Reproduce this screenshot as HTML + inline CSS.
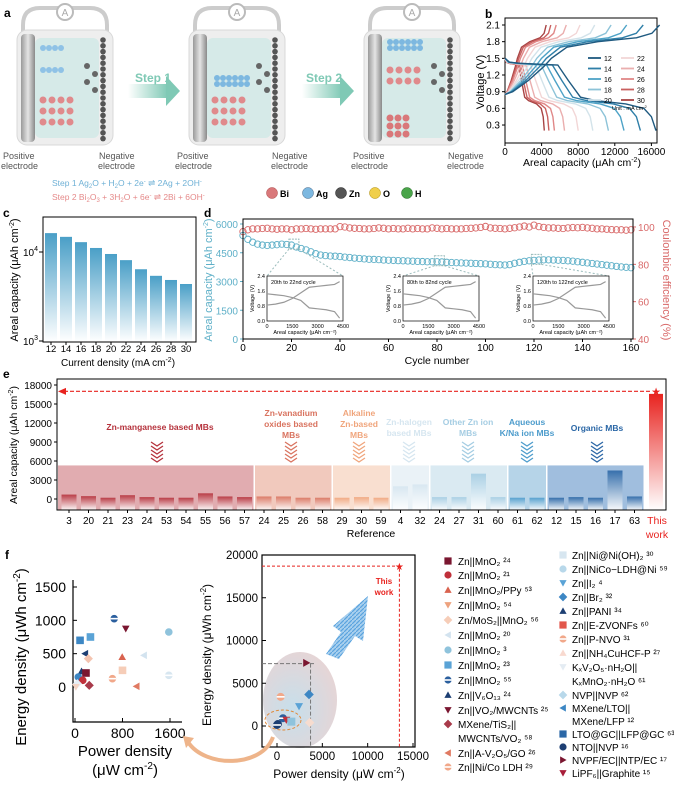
<!DOCTYPE html>
<html><head><meta charset="utf-8">
<style>
html,body{margin:0;padding:0;background:#fff;}
svg{display:block;font-family:"Liberation Sans",Arial,sans-serif;}
</style></head>
<body>
<svg id="fig" width="674" height="788" viewBox="0 0 674 788" xmlns="http://www.w3.org/2000/svg">
<defs>
<linearGradient id="gel" x1="0" x2="1"><stop offset="0" stop-color="#9a9a9a"/><stop offset="0.5" stop-color="#e4e4e4"/><stop offset="1" stop-color="#8a8a8a"/></linearGradient>
<linearGradient id="gc" x1="0" y1="0" x2="0" y2="1"><stop offset="0" stop-color="#4a9fc7"/><stop offset="1" stop-color="#ffffff"/></linearGradient>
<linearGradient id="gthis" x1="0" y1="0" x2="0" y2="1"><stop offset="0" stop-color="#e8231f"/><stop offset="1" stop-color="#ffffff"/></linearGradient>
<linearGradient id="gstep" x1="0" x2="1"><stop offset="0" stop-color="#ffffff"/><stop offset="1" stop-color="#7fc9b5"/></linearGradient>
<radialGradient id="ell" cx="0.4" cy="0.6" r="0.7"><stop offset="0" stop-color="#b9d7e6"/><stop offset="1" stop-color="#e3c9c9"/></radialGradient>
<pattern id="hatch" width="4" height="4" patternUnits="userSpaceOnUse"><rect width="4" height="4" fill="#a9d0ee"/><path d="M0 4L4 0" stroke="#5aa3df" stroke-width="1.2"/></pattern>
</defs>

<g>
<text x="4" y="17" font-size="12" font-weight="bold">a</text>
<g id="cells"></g>
<rect x="128" y="84" width="40" height="14" fill="url(#gstep)"/>
<polygon points="166,76 180,91 166,106" fill="#7fc9b5"/>
<text x="135" y="82" font-size="12" font-weight="bold" fill="#7fc9b5">Step 1</text>
<rect x="302" y="84" width="40" height="14" fill="url(#gstep)"/>
<polygon points="340,76 354,91 340,106" fill="#7fc9b5"/>
<text x="306" y="82" font-size="12" font-weight="bold" fill="#7fc9b5">Step 2</text>
<g font-size="9">
<text x="3" y="159" fill="#555">Positive</text><text x="1" y="169" fill="#555">electrode</text>
<text x="99" y="159" fill="#555">Negative</text><text x="98" y="169" fill="#555">electrode</text>
<text x="177" y="159" fill="#555">Positive</text><text x="175" y="169" fill="#555">electrode</text>
<text x="272" y="159" fill="#555">Negative</text><text x="271" y="169" fill="#555">electrode</text>
<text x="353" y="159" fill="#555">Positive</text><text x="351" y="169" fill="#555">electrode</text>
<text x="448" y="159" fill="#555">Negative</text><text x="447" y="169" fill="#555">electrode</text>
</g>
<text x="52" y="186" font-size="8.5" fill="#6fb1d6">Step 1  Ag<tspan font-size="6" dy="2">2</tspan><tspan dy="-2">O + H</tspan><tspan font-size="6" dy="2">2</tspan><tspan dy="-2">O + 2e</tspan><tspan font-size="6" dy="-3">-</tspan><tspan dy="3"> ⇌ 2Ag + 2OH</tspan><tspan font-size="6" dy="-3">-</tspan></text>
<text x="52" y="200" font-size="8.5" fill="#e58a8a">Step 2  Bi<tspan font-size="6" dy="2">2</tspan><tspan dy="-2">O</tspan><tspan font-size="6" dy="2">3</tspan><tspan dy="-2"> + 3H</tspan><tspan font-size="6" dy="2">2</tspan><tspan dy="-2">O + 6e</tspan><tspan font-size="6" dy="-3">-</tspan><tspan dy="3"> ⇌ 2Bi + 6OH</tspan><tspan font-size="6" dy="-3">-</tspan></text>
<g>
<circle cx="272" cy="193" r="5.5" fill="#d9787a" stroke="#a44" stroke-width="0.5"/><text x="280" y="197" font-size="9" font-weight="bold">Bi</text>
<circle cx="308" cy="193" r="5.5" fill="#7db8e0" stroke="#468" stroke-width="0.5"/><text x="316" y="197" font-size="9" font-weight="bold">Ag</text>
<circle cx="341" cy="193" r="5.5" fill="#555" stroke="#222" stroke-width="0.5"/><text x="349" y="197" font-size="9" font-weight="bold">Zn</text>
<circle cx="375" cy="193" r="5.5" fill="#f0cf4a" stroke="#a80" stroke-width="0.5"/><text x="383" y="197" font-size="9" font-weight="bold">O</text>
<circle cx="407" cy="193" r="5.5" fill="#4aa54a" stroke="#262" stroke-width="0.5"/><text x="415" y="197" font-size="9" font-weight="bold">H</text>
</g>
</g>

<g>
<text x="485" y="18" font-size="12" font-weight="bold">b</text>
<rect x="505" y="18" width="152" height="125" fill="none" stroke="#000" stroke-width="1"/>
<g id="bplot"></g>
<text transform="translate(484,82) rotate(-90)" text-anchor="middle" font-size="11">Voltage (V)</text>
<text x="582" y="166" text-anchor="middle" font-size="10.5">Areal capacity (μAh cm<tspan font-size="7" dy="-4">-2</tspan><tspan dy="4">)</tspan></text>
<g id="blegend"></g>
<text x="612" y="110" font-size="5.5">Unit : mA cm<tspan dy="-2" font-size="4">-2</tspan></text>
</g>

<g>
<text x="3" y="217" font-size="12" font-weight="bold">c</text>
<g id="cplot"></g>
<rect x="43" y="217" width="153" height="125" fill="none" stroke="#000"/>
<text transform="translate(18,280) rotate(-90)" text-anchor="middle" font-size="11">Areal capacity (μAh cm<tspan font-size="7" dy="-4">-2</tspan><tspan dy="4">)</tspan></text>
<text x="118" y="366" text-anchor="middle" font-size="10">Current density (mA cm<tspan font-size="7" dy="-4">-2</tspan><tspan dy="4">)</tspan></text>
</g>

<g>
<text x="204" y="217" font-size="12" font-weight="bold">d</text>
<g id="dplot"></g>
<rect x="243" y="219" width="390" height="120" fill="none" stroke="#000"/>
<text transform="translate(212,280) rotate(-90)" text-anchor="middle" font-size="11" fill="#5fb0c8">Areal capacity (μAh cm<tspan font-size="7" dy="-4">-2</tspan><tspan dy="4">)</tspan></text>
<text transform="translate(663,280) rotate(90)" text-anchor="middle" font-size="11" fill="#d96a6a">Coulombic efficiency (%)</text>
<text x="437" y="364" text-anchor="middle" font-size="10.5">Cycle number</text>
</g>

<g>
<text x="3" y="378" font-size="12" font-weight="bold">e</text>
<g id="eplot"></g>
<rect x="57" y="379" width="609" height="131" fill="none" stroke="#000"/>
<text transform="translate(17,445) rotate(-90)" text-anchor="middle" font-size="10.5">Areal capacity (μAh cm<tspan font-size="7" dy="-4">-2</tspan><tspan dy="4">)</tspan></text>
<text x="371" y="537" text-anchor="middle" font-size="10.5">Reference</text>
<text x="657" y="524" text-anchor="middle" font-size="10.5" fill="#e8231f">This</text>
<text x="657" y="538" text-anchor="middle" font-size="10.5" fill="#e8231f">work</text>
<g font-size="8.5" font-weight="bold" text-anchor="middle">
<text x="160" y="430" fill="#b5313b">Zn-manganese based MBs</text>
<text x="291" y="416" fill="#d9735f">Zn-vanadium</text><text x="291" y="427" fill="#d9735f">oxides based</text><text x="291" y="438" fill="#d9735f">MBs</text>
<text x="359" y="416" fill="#f0a57c">Alkaline</text><text x="359" y="427" fill="#f0a57c">Zn-based</text><text x="359" y="438" fill="#f0a57c">MBs</text>
<text x="409" y="425" fill="#d6e6f0">Zn-halogen</text><text x="409" y="436" fill="#d6e6f0">based MBs</text>
<text x="468" y="425" fill="#a5cde3">Other Zn ion</text><text x="468" y="436" fill="#a5cde3">MBs</text>
<text x="527" y="425" fill="#4d9ccc">Aqueous</text><text x="527" y="436" fill="#4d9ccc">K/Na ion MBs</text>
<text x="597" y="431" fill="#2b67a6">Organic MBs</text>
</g>
</g>

<g>
<text x="5" y="559" font-size="12" font-weight="bold">f</text>
<ellipse cx="300" cy="700" rx="37" ry="48" fill="url(#ell)" opacity="0.8"/>
<polygon points="326,654 341,632 333,626 368,596 363,641 355,636 339,659" fill="url(#hatch)"/>
<g id="fplot"></g>
<ellipse cx="283" cy="720" rx="18" ry="10" fill="none" stroke="#e08a3a" stroke-dasharray="3,2"/>
<path d="M273,737 C262,768 205,768 188,742" fill="none" stroke="#eeb48a" stroke-width="4"/>
<polygon points="183,736 194,738 186,748" fill="#eeb48a"/>
<text transform="translate(26,657) rotate(-90)" text-anchor="middle" font-size="15">Energy density (μWh cm<tspan font-size="10" dy="-6">-2</tspan><tspan dy="6">)</tspan></text>
<text x="125" y="756" text-anchor="middle" font-size="15">Power density</text>
<text x="125" y="775" text-anchor="middle" font-size="15">(μW cm<tspan font-size="10" dy="-6">-2</tspan><tspan dy="6">)</tspan></text>
<text transform="translate(211,655) rotate(-90)" text-anchor="middle" font-size="12">Energy density (μWh cm<tspan font-size="8" dy="-5">-2</tspan><tspan dy="5">)</tspan></text>
<text x="339" y="778" text-anchor="middle" font-size="12">Power density (μW cm<tspan font-size="8" dy="-5">-2</tspan><tspan dy="5">)</tspan></text>
<text x="384" y="584" text-anchor="middle" font-size="8" font-weight="bold" fill="#e8231f">This</text>
<text x="384" y="595" text-anchor="middle" font-size="8" font-weight="bold" fill="#e8231f">work</text>
<g id="flegend"></g>
</g>
</svg>

<script>
const NS = 'http://www.w3.org/2000/svg';
function mk(tag, attrs, parent, name) {
  const e = document.createElementNS(NS, tag);
  for (const k in attrs) e.setAttribute(k, attrs[k]);
  
  
  parent.appendChild(e);
  return e;
}
function txt(x, y, s, parent, name, extra) {
  const t = mk('text', Object.assign({x: x, y: y}, extra || {}), parent, name);
  t.textContent = s;
  return t;
}

/* ---------- Panel b data ---------- */
const bCurrents = [12, 14, 16, 18, 20, 22, 24, 26, 28, 30];
const bDischargeCap = [16500, 14800, 13000, 11300, 9600, 8000, 6500, 5400, 4800, 4300];
const bChargeCap = [16900, 15100, 13300, 11600, 9800, 8200, 6700, 5600, 5000, 4500];
const bDisFrac = [0, 0.03, 0.1, 0.35, 0.42, 0.5, 0.6, 0.8, 0.92, 0.97, 1.0];
const bDisV = [1.5, 1.43, 1.41, 1.38, 1.1, 0.8, 0.74, 0.68, 0.6, 0.45, 0.2];
const bChFrac = [0, 0.05, 0.15, 0.25, 0.3, 0.4, 0.6, 0.85, 0.95, 1.0];
const bChV = [0.85, 0.9, 1.1, 1.35, 1.5, 1.7, 1.8, 1.87, 1.95, 2.1];
const bColors = ['#1f5a80','#2f7fa8','#4ea3c7','#8dc3d8','#d3e3ea','#f2d6d6','#eaaeae','#e08787','#c9605f','#a84444'];
const bYTicks = [0.3, 0.6, 0.9, 1.2, 1.5, 1.8, 2.1];
const bXTicks = [0, 4000, 8000, 12000, 16000];
function bx(c) { return 505 + c * 9.15 / 1000; }
function by(v) { return 25 + (2.1 - v) / 0.3 * 16.67; }
(function(){
  const g = document.getElementById('bplot');
  bYTicks.forEach(v => {
    mk('line', {x1: 505, x2: 502, y1: by(v), y2: by(v), stroke: '#000'}, g, 'b-y-tick');
    txt(500, by(v) + 3.5, v.toFixed(1), g, 'b-y-tick-label', {'text-anchor': 'end', 'font-size': 10});
  });
  bXTicks.forEach(c => {
    mk('line', {x1: bx(c), x2: bx(c), y1: 143, y2: 146, stroke: '#000'}, g, 'b-x-tick');
    txt(bx(c), 155, String(c), g, 'b-x-tick-label', {'text-anchor': 'middle', 'font-size': 10});
  });
  for (let i = bCurrents.length - 1; i >= 0; i--) {
    const d1 = bDisFrac.map((f, k) => (k ? 'L' : 'M') + bx(f * bDischargeCap[i]).toFixed(1) + ',' + by(bDisV[k]).toFixed(1)).join('');
    mk('path', {d: d1, fill: 'none', stroke: bColors[i], 'stroke-width': 1.4}, g, 'b-discharge-curve-' + bCurrents[i]);
    const d2 = bChFrac.map((f, k) => (k ? 'L' : 'M') + bx(f * bChargeCap[i]).toFixed(1) + ',' + by(bChV[k]).toFixed(1)).join('');
    mk('path', {d: d2, fill: 'none', stroke: bColors[i], 'stroke-width': 1.4}, g, 'b-charge-curve-' + bCurrents[i]);
  }
  const lg = document.getElementById('blegend');
  bCurrents.forEach((c, i) => {
    const col = i < 5 ? 0 : 1, row = i % 5;
    const x = col ? 621 : 588, y = 58 + row * 10.5;
    mk('line', {x1: x, x2: x + 13, y1: y, y2: y, stroke: bColors[i], 'stroke-width': 1.8}, lg, 'b-legend-swatch');
    txt(x + 16, y + 3, String(c), lg, 'b-legend-label', {'font-size': 7});
  });
})();

/* ---------- Panel c data ---------- */
const cCurrents = [12, 14, 16, 18, 20, 22, 24, 26, 28, 30];
const cCapacity = [16300, 14800, 12900, 11100, 9500, 8100, 6400, 5400, 4850, 4370];
function cx(i) { return 51 + i * 15; }
function cy(v) { return 252 - (Math.log10(v) - 4) * 89; }
(function(){
  const g = document.getElementById('cplot');
  cCapacity.forEach((v, i) => {
    mk('rect', {x: cx(i) - 6, y: cy(v), width: 12, height: 342 - cy(v), fill: 'url(#gc)'}, g, 'c-bar-' + cCurrents[i]);
    mk('line', {x1: cx(i), x2: cx(i), y1: 342, y2: 345, stroke: '#000'}, g, 'c-x-tick');
    txt(cx(i), 352, String(cCurrents[i]), g, 'c-x-tick-label', {'text-anchor': 'middle', 'font-size': 9.5});
  });
  [[3, 341], [4, 252]].forEach(p => {
    const t = txt(38, p[1] + 4, '10', g, 'c-y-tick-label', {'text-anchor': 'end', 'font-size': 10});
    const s = mk('tspan', {dy: -5, 'font-size': 7}, t, 'c-y-tick-exp');
    s.textContent = String(p[0]);
    mk('line', {x1: 43, x2: 39, y1: p[1], y2: p[1], stroke: '#000'}, g, 'c-y-tick');
  });
})();

/* ---------- Panel d data ---------- */
const dCycles = [0,2,4,6,8,10,12,14,16,18,20,22,24,26,28,30,32,34,36,38,40,42,44,46,48,50,52,54,56,58,60,62,64,66,68,70,72,74,76,78,80,82,84,86,88,90,92,94,96,98,100,102,104,106,108,110,112,114,116,118,120,122,124,126,128,130,132,134,136,138,140,142,144,146,148,150,152,154,156,158,160];
const dCapacity = [5400,5200,5050,4950,4900,4880,4900,4920,4950,4930,4900,4800,4720,4650,4550,4450,4380,4350,4330,4320,4300,4270,4250,4220,4200,4180,4160,4150,4140,4120,4110,4100,4090,4080,4070,4060,4050,4040,4030,4030,4030,4020,4000,3990,3980,3970,3960,3950,3940,3930,3920,3900,3880,3870,3860,3880,3950,4000,4050,4080,4100,4120,4130,4130,4120,4110,4100,4080,4060,4030,4000,3970,3940,3910,3880,3850,3820,3790,3760,3740,3720];
const dCE = [97.5,98.5,99,99,99.2,99.3,99,98.8,99,99,98.5,99,99,99.2,99,98.8,99,99,99,99,100.2,100,99.5,99.3,99.2,99,99,99.2,99.5,99.3,99,99.2,99,99,99.3,99,99.2,99,99,99.5,99.3,99,99.2,99,99,99,99.2,99.3,99.5,99.8,100.3,99.5,99.3,99.2,99,99.3,99.6,100,100.5,100,101,100.2,99.8,99.5,99.5,99.3,99.2,99.5,99.7,99.6,99.8,99.5,99.3,99,99,98.8,98.6,98.5,98.5,98.3,98.5];
const dLeftTicks = [0, 1500, 3000, 4500, 6000];
const dRightTicks = [40, 60, 80, 100];
const dXTicks = [0, 20, 40, 60, 80, 100, 120, 140, 160];
const dInsetCap = [0, 500, 1000, 1500, 2000, 2500, 3000, 3500, 4000, 4300];
const dInsetDis = [1.45, 1.4, 1.35, 1.25, 1.1, 0.7, 0.65, 0.6, 0.5, 0.15];
const dInsetCh = [0.85, 0.9, 1.0, 1.2, 1.5, 1.8, 1.85, 1.9, 1.95, 2.1];
const dInsetTitles = ['20th to 22nd cycle', '80th to 82nd cycle', '120th to 122nd cycle'];
const dInsetCycles = [21, 81, 121];
function dx(n) { return 243 + n * 388 / 160; }
function dyL(v) { return 339 - v * 115 / 6000; }
function dyR(p) { return 339 - (p - 40) * 112 / 60; }
(function(){
  const g = document.getElementById('dplot');
  dLeftTicks.forEach(v => {
    mk('line', {x1: 243, x2: 240, y1: dyL(v), y2: dyL(v), stroke: '#5fb0c8'}, g, 'd-left-tick');
    txt(238, dyL(v) + 4, String(v), g, 'd-left-tick-label', {'text-anchor': 'end', 'font-size': 10, fill: '#5fb0c8'});
  });
  dRightTicks.forEach(v => {
    mk('line', {x1: 633, x2: 636, y1: dyR(v), y2: dyR(v), stroke: '#d96a6a'}, g, 'd-right-tick');
    txt(638, dyR(v) + 4, String(v), g, 'd-right-tick-label', {'font-size': 10, fill: '#d96a6a'});
  });
  dXTicks.forEach(v => {
    mk('line', {x1: dx(v), x2: dx(v), y1: 339, y2: 342, stroke: '#000'}, g, 'd-x-tick');
    txt(dx(v), 351, String(v), g, 'd-x-tick-label', {'text-anchor': 'middle', 'font-size': 10});
  });
  dCycles.forEach((n, i) => {
    mk('circle', {cx: dx(n), cy: dyR(dCE[i]), r: 3.2, fill: 'none', stroke: '#d96a6a', 'stroke-width': 0.9}, g, 'd-ce-point');
    mk('circle', {cx: dx(n), cy: dyL(dCapacity[i]), r: 3.2, fill: 'none', stroke: '#5fb0c8', 'stroke-width': 0.9}, g, 'd-capacity-point');
  });
  const insetX = [267, 403, 533];
  insetX.forEach((x0, k) => {
    const w = 76, y0 = 276, h = 45;
    const cyc = dInsetCycles[k];
    const iy = dCapacity[dCycles.indexOf(cyc - 1)] || 4000;
    mk('rect', {x: dx(cyc) - 5, y: dyL(iy) - 6, width: 10, height: 10, fill: 'none', stroke: '#9bb', 'stroke-dasharray': '2,1'}, g, 'd-inset-marker');
    mk('line', {x1: dx(cyc) - 5, y1: dyL(iy) + 4, x2: x0, y2: y0, stroke: '#9bb', 'stroke-dasharray': '2,2'}, g, 'd-inset-connector');
    mk('line', {x1: dx(cyc) + 5, y1: dyL(iy) + 4, x2: x0 + w, y2: y0, stroke: '#9bb', 'stroke-dasharray': '2,2'}, g, 'd-inset-connector');
    mk('rect', {x: x0, y: y0, width: w, height: h, fill: '#fff', stroke: '#000', 'stroke-width': 0.7}, g, 'd-inset-frame');
    const ix = c => x0 + c * w / 4500, iyv = v => y0 + h - v * h / 2.4;
    mk('path', {d: dInsetCap.map((c, j) => (j ? 'L' : 'M') + ix(c) + ',' + iyv(dInsetDis[j])).join(''), fill: 'none', stroke: '#999', 'stroke-width': 1.2}, g, 'd-inset-discharge');
    mk('path', {d: dInsetCap.map((c, j) => (j ? 'L' : 'M') + ix(c) + ',' + iyv(dInsetCh[j])).join(''), fill: 'none', stroke: '#999', 'stroke-width': 1.2}, g, 'd-inset-charge');
    txt(x0 + 4, y0 + 8, dInsetTitles[k], g, 'd-inset-title', {'font-size': 5.5});
    [0, 1500, 3000, 4500].forEach(c => txt(ix(c), y0 + h + 7, String(c), g, 'd-inset-x-tick', {'font-size': 5.5, 'text-anchor': 'middle'}));
    [0.0, 0.8, 1.6, 2.4].forEach(v => txt(x0 - 2, iyv(v) + 2, v.toFixed(1), g, 'd-inset-y-tick', {'font-size': 5.5, 'text-anchor': 'end'}));
    txt(x0 + w / 2, y0 + h + 13, 'Areal capacity (μAh cm⁻²)', g, 'd-inset-x-title', {'font-size': 5.5, 'text-anchor': 'middle'});
    txt(0, 0, 'Voltage (V)', g, 'd-inset-y-title', {'font-size': 5.5, 'text-anchor': 'middle', transform: 'translate(' + (x0 - 13) + ',' + (y0 + h / 2) + ') rotate(-90)'});
  });
})();

/* ---------- Panel e data ---------- */
const eRefs = ['3','20','21','23','24','53','54','55','56','57','24','25','26','58','29','30','59','4','32','24','27','31','60','61','62','12','15','16','17','63'];
const eValues = [700,450,200,600,300,200,200,900,400,300,400,400,200,200,200,300,200,2000,2300,300,300,4000,300,200,200,200,300,200,4500,400];
const eGroupSize = [10, 4, 3, 2, 4, 2, 5];
const eThisWork = 16600;
const eGroupColors = ['#b5313b','#d9735f','#f0a57c','#d6e6f0','#a5cde3','#4d9ccc','#2b67a6'];
const eGroupBg = ['#dc9ea2','#efc0b2','#f8d9c8','#e6f0f6','#d3e6f0','#a9cde4','#8fb3d8'];
const eYTicks = [0, 3000, 6000, 9000, 12000, 15000, 18000];
const eGroupTop = 5300;
function ex(i) { return 69 + i * 19.5; }
function ey(v) { return 499 - v * 114 / 18000; }
(function(){
  const g = document.getElementById('eplot');
  let start = 0;
  eGroupSize.forEach((n, gi) => {
    const x0 = ex(start) - 9.5, x1 = ex(start + n - 1) + 9.5;
    mk('rect', {x: gi === 0 ? 58 : x0 + 0.5, y: ey(eGroupTop), width: x1 - (gi === 0 ? 58 : x0 + 0.5) - 0.5, height: 510 - ey(eGroupTop), fill: eGroupBg[gi], opacity: 0.85}, g, 'e-group-background');
    const chevX = [157, 291, 359, 409, 468, 527, 597][gi];
    for (let k = 0; k < 5; k++) {
      const yy = 442 + k * 4;
      mk('path', {d: 'M' + (chevX - 6) + ',' + yy + 'L' + chevX + ',' + (yy + 4) + 'L' + (chevX + 6) + ',' + yy, fill: 'none', stroke: eGroupColors[gi], 'stroke-width': 1.3}, g, 'e-group-chevron');
    }
    for (let i = start; i < start + n; i++) {
      const grad = mk('linearGradient', {id: 'eg' + i, x1: 0, y1: 0, x2: 0, y2: 1}, g, 'e-bar-gradient');
      mk('stop', {offset: 0, 'stop-color': eGroupColors[gi]}, grad, 'e-bar-gradient-stop');
      mk('stop', {offset: 1, 'stop-color': '#ffffff'}, grad, 'e-bar-gradient-stop');
      mk('rect', {x: ex(i) - 7.5, y: ey(eValues[i]), width: 15, height: 510 - ey(eValues[i]), fill: 'url(#eg' + i + ')', opacity: 0.9}, g, 'e-bar-ref-' + eRefs[i]);
      mk('line', {x1: ex(i), x2: ex(i), y1: 510, y2: 513, stroke: '#000'}, g, 'e-x-tick');
      txt(ex(i), 524, eRefs[i], g, 'e-x-tick-label', {'text-anchor': 'middle', 'font-size': 10});
    }
    start += n;
  });
  mk('rect', {x: 649, y: ey(eThisWork), width: 14, height: 510 - ey(eThisWork), fill: 'url(#gthis)'}, g, 'e-bar-this-work');
  mk('line', {x1: 64, x2: 652, y1: ey(17000), y2: ey(17000), stroke: '#e8231f', 'stroke-dasharray': '4,2', 'stroke-width': 1.2}, g, 'e-reference-line');
  mk('polygon', {points: '58,' + ey(17000) + ' 66,' + (ey(17000) - 3.5) + ' 66,' + (ey(17000) + 3.5), fill: '#e8231f'}, g, 'e-reference-arrowhead');
  txt(656, ey(17000) + 4, '★', g, 'e-this-work-star', {'text-anchor': 'middle', 'font-size': 11, fill: '#e8231f'});
  eYTicks.forEach(v => {
    mk('line', {x1: 57, x2: 54, y1: ey(v), y2: ey(v), stroke: '#000'}, g, 'e-y-tick');
    txt(52, ey(v) + 4, String(v), g, 'e-y-tick-label', {'text-anchor': 'end', 'font-size': 10});
  });
})();

/* ---------- Panel f data ---------- */
const fLeftPower = [660, 855, 1580, 85, 260, 170, 225, 795, 1160, 1580, 630, 800, 1035, 110, 185, 55, 130, 240, 40, 15];
const fLeftEnergy = [1025, 875, 825, 700, 750, 500, 425, 450, 475, 175, 125, 250, 10, 235, 210, 150, 100, 25, 50, 0];
const fLeftShape = ['hc','vt','hex','sq','sq','lt','dia','tri','lt','hc','hc','sq','lt','tri','sq','c','c','dia','dia','vt'];
const fLeftColor = ['#2b5f9e','#7a1630','#8fc3dc','#3d87c4','#5aa3d6','#1d3f73','#f4c4b0','#d9634f','#d3e3ef','#d7e6f0','#f1a88a','#f6cdb8','#e07a62','#1d3f73','#7a1630','#3d87c4','#c0303a','#a83a4a','#e7eef5','#f4d3c4'];
const fRightPower = [3240, 3530, 2430, 400, 3600, 100, 660, 1030, 1580, 0];
const fRightEnergy = [7380, 3690, 2300, 3410, 400, 240, 910, 710, 510, 120];
const fRightShape = ['rt','dia','vt','hc','dia','c','hc','vt','sq','hc'];
const fRightColor = ['#7a1630','#3d87c4','#5aa3d6','#f1a88a','#f6dccf','#1d3f73','#2b5f9e','#c0303a','#8fc3dc','#1d3f73'];
const fLeftYTicks = [0, 500, 1000, 1500];
const fLeftXTicks = [0, 800, 1600];
const fRightYTicks = [0, 5000, 10000, 15000, 20000];
const fRightXTicks = [0, 5000, 10000, 15000];
const fThisPower = 13500, fThisEnergy = 18700;
const fGuidePower = 3700, fGuideEnergy = 7300;
function fxL(p) { return 75 + p * 95 / 1600; }
function fyL(e) { return 687 - e * 100 / 1500; }
function fxR(p) { return 277 + p * 136 / 15000; }
function fyR(e) { return 726 - e * 171 / 20000; }
function marker(shape, x, y, r, color, parent, name) {
  let el;
  if (shape === 'c' || shape === 'hc' || shape === 'hex') el = mk('circle', {cx: x, cy: y, r: r, fill: color}, parent, name);
  else if (shape === 'sq') el = mk('rect', {x: x - r, y: y - r, width: 2 * r, height: 2 * r, fill: color}, parent, name);
  else {
    const pts = {tri: [[0,-1],[1,0.8],[-1,0.8]], vt: [[-1,-0.8],[1,-0.8],[0,1]], lt: [[-1,0],[0.8,-1],[0.8,1]], rt: [[1,0],[-0.8,-1],[-0.8,1]], dia: [[0,-1.2],[1.2,0],[0,1.2],[-1.2,0]]}[shape];
    el = mk('polygon', {points: pts.map(p => (x + p[0] * r) + ',' + (y + p[1] * r)).join(' '), fill: color}, parent, name);
  }
  if (shape === 'hc') mk('rect', {x: x - r, y: y - 0.8, width: 2 * r, height: 1.6, fill: '#fff'}, parent, name + '-mark');
  return el;
}
(function(){
  const g = document.getElementById('fplot');
  mk('path', {d: 'M73,580 L73,722 L182,722', fill: 'none', stroke: '#000', 'stroke-width': 1.2}, g, 'f-left-axes');
  fLeftYTicks.forEach(v => {
    mk('line', {x1: 73, x2: 77, y1: fyL(v), y2: fyL(v), stroke: '#000'}, g, 'f-left-y-tick');
    txt(66, fyL(v) + 5, String(v), g, 'f-left-y-tick-label', {'text-anchor': 'end', 'font-size': 14});
  });
  fLeftXTicks.forEach(v => {
    mk('line', {x1: fxL(v), x2: fxL(v), y1: 722, y2: 718, stroke: '#000'}, g, 'f-left-x-tick');
    txt(fxL(v), 738, String(v), g, 'f-left-x-tick-label', {'text-anchor': 'middle', 'font-size': 14});
  });
  fLeftPower.forEach((p, i) => marker(fLeftShape[i], fxL(p), fyL(fLeftEnergy[i]), 3.8, fLeftColor[i], g, 'f-left-point'));
  mk('rect', {x: 262, y: 555, width: 153, height: 192, fill: 'none', stroke: '#000', 'stroke-width': 1.2}, g, 'f-right-frame');
  fRightYTicks.forEach(v => {
    mk('line', {x1: 262, x2: 266, y1: fyR(v), y2: fyR(v), stroke: '#000'}, g, 'f-right-y-tick');
    txt(258, fyR(v) + 4, String(v), g, 'f-right-y-tick-label', {'text-anchor': 'end', 'font-size': 11.5});
  });
  fRightXTicks.forEach(v => {
    mk('line', {x1: fxR(v), x2: fxR(v), y1: 747, y2: 743, stroke: '#000'}, g, 'f-right-x-tick');
    txt(fxR(v), 760, String(v), g, 'f-right-x-tick-label', {'text-anchor': 'middle', 'font-size': 11.5});
  });
  mk('path', {d: 'M262,' + fyR(fThisEnergy) + 'H' + fxR(fThisPower) + 'V747', fill: 'none', stroke: '#e8231f', 'stroke-dasharray': '3,2'}, g, 'f-this-work-guides');
  txt(fxR(fThisPower), fyR(fThisEnergy) + 4, '★', g, 'f-this-work-star', {'text-anchor': 'middle', 'font-size': 10, fill: '#e8231f'});
  mk('path', {d: 'M262,' + fyR(fGuideEnergy) + 'H' + fxR(fGuidePower + 600) + 'M' + fxR(fGuidePower) + ',' + fyR(fGuideEnergy) + 'V747', fill: 'none', stroke: '#777', 'stroke-dasharray': '4,2'}, g, 'f-guide-lines');
  fRightPower.forEach((p, i) => marker(fRightShape[i], fxR(p), fyR(fRightEnergy[i]), 4, fRightColor[i], g, 'f-right-point'));
})();

/* ---------- Panel f legend ---------- */
const legLeft = [['sq','#7a1630','Zn||MnO₂ ²⁴'],['c','#c0303a','Zn||MnO₂ ²¹'],['tri','#d9634f','Zn||MnO₂/PPy ⁵³'],['vt','#eda27e','Zn||MnO₂ ⁵⁴'],['dia','#f6cdb8','Zn/MoS₂||MnO₂ ⁵⁶'],['lt','#d3e3ef','Zn||MnO₂ ²⁰'],['hex','#8fc3dc','Zn||MnO₂ ³'],['sq','#5aa3d6','Zn||MnO₂ ²³'],['hc','#2b5f9e','Zn||MnO₂ ⁵⁵'],['tri','#1d3f73','Zn||V₆O₁₃ ²⁴'],['vt','#7a1630','Zn||VO₂/MWCNTs ²⁵'],['dia','#a83a4a','MXene/TiS₂||'],[null,'','MWCNTs/VO₂ ⁵⁸'],['lt','#e07a62','Zn||A-V₂O₅/GO ²⁶'],['hc','#f1a88a','Zn||Ni/Co LDH ²⁹']];
const legLeftY = [561,575,590,605,620,635,650,665,680,695,710,724,738,753,767];
const legRight = [['sq','#d7e6f0','Zn||Ni@Ni(OH)₂ ³⁰'],['c','#b8d8ea','Zn||NiCo−LDH@Ni ⁵⁹'],['vt','#5aa3d6','Zn||I₂ ⁴'],['dia','#3d87c4','Zn||Br₂ ³²'],['tri','#1d3f73','Zn||PANI ³⁴'],['sq','#e2574c','Zn||E-ZVONFs ⁶⁰'],['hc','#f1a88a','Zn||P-NVO ³¹'],['tri','#f8d9cf','Zn||NH₄CuHCF-P ²⁷'],['vt','#e4ecf3','KₓV₂O₅·nH₂O||'],[null,'','KₓMnO₂·nH₂O ⁶¹'],['dia','#b8d8ea','NVP||NVP ⁶²'],['lt','#3d87c4','MXene/LTO||'],[null,'','MXene/LFP ¹²'],['sq','#2b67a6','LTO@GC||LFP@GC ⁶³'],['c','#1d3f73','NTO||NVP ¹⁶'],['rt','#7a1630','NVPF/EC||NTP/EC ¹⁷'],['vt','#a81e3a','LiPF₆||Graphite ¹⁵']];
const legRightY = [555,569,583,597,611,625,639,653,667,681,695,708,721,734,747,760,773];
(function(){
  const g = document.getElementById('flegend');
  legLeft.forEach((e, i) => {
    if (e[0]) marker(e[0], 448, legLeftY[i], 3.6, e[1], g, 'legend-marker');
    txt(458, legLeftY[i] + 4, e[2], g, 'legend-entry', {'font-size': 10});
  });
  legRight.forEach((e, i) => {
    if (e[0]) marker(e[0], 563, legRightY[i], 3.6, e[1], g, 'legend-marker');
    txt(572, legRightY[i] + 4, e[2], g, 'legend-entry', {'font-size': 10});
  });
})();

/* ---------- Panel a illustration ---------- */
const cellLeft = [15, 187, 362];
(function(){
  const g = document.getElementById('cells');
  cellLeft.forEach((x0, k) => {
    const w = 100;
    mk('path', {d: 'M' + (x0 + 8) + ',40 L' + (x0 + 8) + ',25 Q' + (x0 + 8) + ',8 ' + (x0 + 25) + ',8 H' + (x0 + w - 25) + ' Q' + (x0 + w - 8) + ',8 ' + (x0 + w - 8) + ',25 V40', fill: 'none', stroke: '#ccc', 'stroke-width': 4}, g, 'cell-wire');
    mk('circle', {cx: x0 + w / 2, cy: 12, r: 8, fill: '#fff', stroke: '#bbb', 'stroke-width': 2}, g, 'ammeter');
    txt(x0 + w / 2, 16, 'A', g, 'ammeter-label', {'text-anchor': 'middle', 'font-size': 10, fill: '#aaa'});
    mk('rect', {x: x0 + 2, y: 30, width: w - 4, height: 115, rx: 10, fill: '#eeeeee', stroke: '#d8d8d8'}, g, 'cell-body');
    mk('rect', {x: x0 + 20, y: 38, width: w - 36, height: 100, rx: 6, fill: '#cfe9e6', opacity: 0.8}, g, 'electrolyte');
    mk('rect', {x: x0 + 6, y: 34, width: 14, height: 108, rx: 4, fill: 'url(#gel)'}, g, 'positive-electrode');
    for (let j = 0; j < 18; j++) mk('circle', {cx: x0 + w - 12, cy: 40 + j * 5.8, r: 2.8, fill: '#555'}, g, 'negative-electrode-zn');
    for (let j = 0; j < 4; j++) mk('circle', {cx: x0 + 72 + (j % 2) * 8, cy: 66 + j * 8, r: 3, fill: '#666'}, g, 'zn-ion');
    if (k === 0) {
      for (let j = 0; j < 8; j++) mk('circle', {cx: x0 + 28 + (j % 4) * 6, cy: 48 + Math.floor(j / 4) * 22, r: 3, fill: '#8fc2e6'}, g, 'ag2o-atom');
      for (let j = 0; j < 12; j++) mk('circle', {cx: x0 + 28 + (j % 4) * 9, cy: 100 + Math.floor(j / 4) * 11, r: 3.5, fill: '#e08a8c'}, g, 'bi2o3-atom');
    } else if (k === 1) {
      for (let j = 0; j < 12; j++) mk('circle', {cx: x0 + 30 + (j % 6) * 6, cy: 78 + Math.floor(j / 6) * 6, r: 3, fill: '#7db8e0'}, g, 'ag-atom');
      for (let j = 0; j < 12; j++) mk('circle', {cx: x0 + 28 + (j % 4) * 9, cy: 100 + Math.floor(j / 4) * 11, r: 3.5, fill: '#e08a8c'}, g, 'bi2o3-atom');
    } else {
      for (let j = 0; j < 12; j++) mk('circle', {cx: x0 + 28 + (j % 6) * 6, cy: 42 + Math.floor(j / 6) * 6, r: 3, fill: '#7db8e0'}, g, 'ag-atom');
      for (let j = 0; j < 8; j++) mk('circle', {cx: x0 + 28 + (j % 4) * 9, cy: 70 + Math.floor(j / 4) * 11, r: 3.5, fill: '#e08a8c'}, g, 'bi2o3-atom');
      for (let j = 0; j < 9; j++) mk('circle', {cx: x0 + 28 + (j % 3) * 8, cy: 118 + Math.floor(j / 3) * 8, r: 3.5, fill: '#d9787a'}, g, 'bi-atom');
    }
  });
})();
</script>
</body></html>
